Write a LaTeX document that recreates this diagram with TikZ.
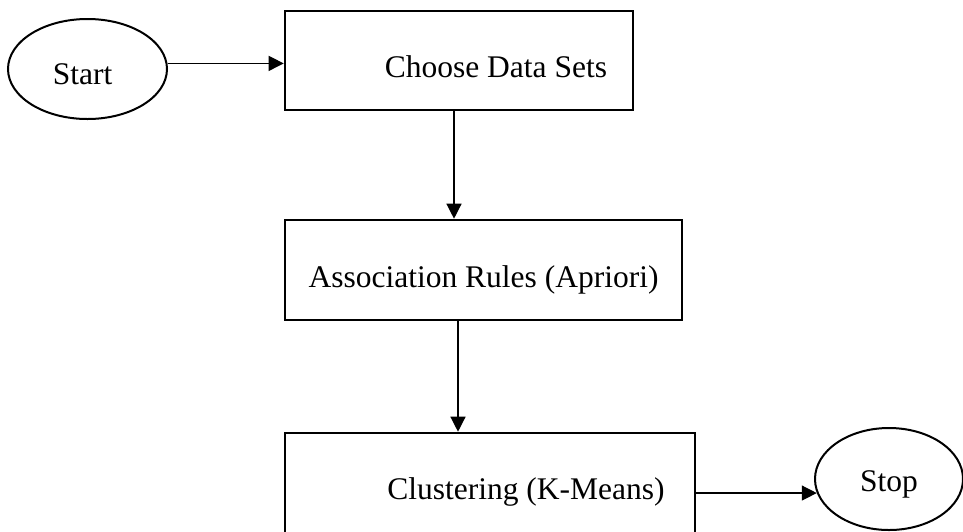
\documentclass[tikz,border=0pt]{standalone}
\usepackage{fontspec}
\setmainfont{Liberation Serif}
\usetikzlibrary{arrows.meta,shapes.geometric}
\tikzset{
  stepbox/.style={draw, line width=2.6pt, rectangle, inner sep=0pt,
    text height=22pt, text depth=7pt, font=\fontsize{31.5}{38}\selectfont},
  term/.style={draw, line width=2pt, ellipse, inner sep=0pt,
    text height=22pt, text depth=7pt, font=\fontsize{31.5}{38}\selectfont},
  arr/.style={line width=1.3pt, -{Triangle[length=15pt,width=15pt]}}
}
\begin{document}
\begin{tikzpicture}[x=1pt,y=-1pt]
\useasboundingbox (0,0) rectangle (963,531);
\node[term, minimum width=159pt, minimum height=100pt] (start) at (87.5,69)
  {\hspace*{-10pt}\raisebox{-8pt}{Start}};
\node[stepbox, minimum width=348pt, minimum height=99pt] (box1) at (459,60.5)
  {\hspace*{74pt}\raisebox{-9pt}{Choose Data Sets}};
\node[stepbox, minimum width=397pt, minimum height=100pt] (box2) at (483.5,270)
  {\raisebox{-9.5pt}{Association Rules (Apriori)}};
\node[stepbox, minimum width=410pt, minimum height=102pt] (box3) at (490,484)
  {\hspace*{72pt}\raisebox{-8pt}{Clustering (K-Means)}};
\node[term, minimum width=148pt, minimum height=102pt] (stop) at (889,479)
  {\raisebox{-5pt}{Stop}};
\coordinate (c1) at (454,0);
\coordinate (c2) at (458,0);
\draw[arr] (start.4) -- (start.4 -| box1.west);
\draw[arr] (box1.south -| c1) -- (box2.north -| c1);
\draw[arr] (box2.south -| c2) -- (box3.north -| c2);
\draw[arr] (box3.east |- stop.191) -- (stop.191);
\end{tikzpicture}
\end{document}
